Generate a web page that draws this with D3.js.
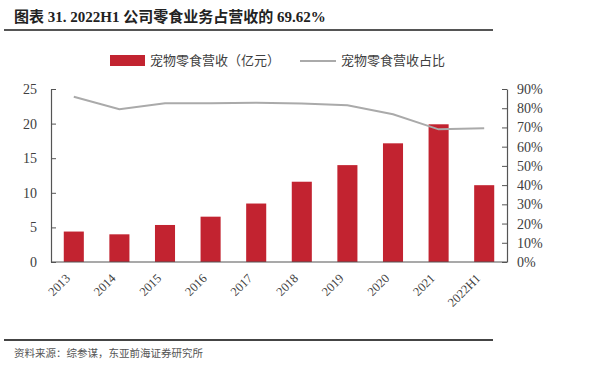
<!DOCTYPE html>
<html><head><meta charset="utf-8">
<script src="https://cdn.jsdelivr.net/npm/d3@7"></script>
<style>
body{margin:0;background:#fff;}
svg{display:block;}
</style></head>
<body><svg id="c" width="600" height="365"></svg>
<script>
const categories = ["2013","2014","2015","2016","2017","2018","2019","2020","2021","2022H1"];
const revenue = [4.4, 4.0, 5.35, 6.55, 8.45, 11.6, 14.0, 17.15, 19.9, 11.1];
const share = [86.0, 79.5, 82.6, 82.6, 82.9, 82.5, 81.6, 76.9, 69.0, 69.62];
const leftTicks = [0,5,10,15,20,25];
const rightTicks = [0,10,20,30,40,50,60,70,80,90];
const titleText = "图表 31. 2022H1 公司零食业务占营收的 69.62%";
const barLabel = "宠物零食营收（亿元）";
const lineLabel = "宠物零食营收占比";
const sourceText = "资料来源：综参谋，东亚前海证券研究所";

const svg = d3.select("#c");
const serif = "'Liberation Serif','Noto Serif CJK SC','Noto Sans CJK SC',serif";
const cjk = "'Liberation Serif','Noto Sans CJK SC',serif";
const m = {left:51, right:507, top:89, bottom:262};

const x = d3.scaleBand().domain(categories).range([m.left, m.right]).paddingInner(0.56).paddingOuter(0.28);
const yL = d3.scaleLinear().domain([0,25]).range([m.bottom, m.top]);
const yR = d3.scaleLinear().domain([0,90]).range([m.bottom, m.top]);

// title
svg.append("text").attr("x",14).attr("y",22).text(titleText)
  .attr("font-family",cjk).attr("font-weight","bold").attr("font-size",15).attr("fill","#222");
svg.append("line").attr("x1",4).attr("x2",493).attr("y1",30).attr("y2",30).attr("stroke","#555").attr("stroke-width",2);

// bars
svg.append("g").selectAll("rect").data(revenue).join("rect")
  .attr("x",(d,i)=>x(categories[i])).attr("width",x.bandwidth())
  .attr("y",d=>yL(d)).attr("height",d=>yL(0)-yL(d)).attr("fill","#C22330");

// line
const line = d3.line().x((d,i)=>x(categories[i])+x.bandwidth()/2).y(d=>yR(d));
svg.append("path").datum(share).attr("d",line).attr("fill","none").attr("stroke","#AAAAAA").attr("stroke-width",2);

// axes
const axL = svg.append("g").attr("transform",`translate(${m.left},0)`)
  .call(d3.axisLeft(yL).tickValues(leftTicks).tickSizeInner(-5).tickSizeOuter(0).tickPadding(14));
const axR = svg.append("g").attr("transform",`translate(${m.right},0)`)
  .call(d3.axisRight(yR).tickValues(rightTicks).tickFormat(d=>d+"%").tickSizeInner(-5).tickSizeOuter(0).tickPadding(10));
const axB = svg.append("g").attr("transform",`translate(0,${m.bottom})`)
  .call(d3.axisBottom(x).tickSize(0).tickPadding(8));
[axL,axR,axB].forEach(a=>{
  a.selectAll("path").attr("stroke","#555").attr("stroke-width",1.2);
  a.selectAll("line").attr("stroke","#555");
  a.selectAll("text").attr("font-family",serif).attr("font-size",14).attr("fill","#404040");
});
axB.select("path").attr("d",`M${m.left},0H${m.right}`);
axB.selectAll(".tick text").attr("font-size",12.5).attr("text-anchor","end")
  .attr("x",0).attr("y",0).attr("dy","0.35em")
  .attr("transform","translate(-6,14) rotate(-45)");

// legend
svg.append("rect").attr("x",110).attr("y",55).attr("width",35).attr("height",11).attr("fill","#C22330");
svg.append("text").attr("x",150).attr("y",65).text(barLabel).attr("font-family",cjk).attr("font-size",13).attr("fill","#404040");
svg.append("line").attr("x1",300).attr("x2",336).attr("y1",61).attr("y2",61).attr("stroke","#AAAAAA").attr("stroke-width",2);
svg.append("text").attr("x",341).attr("y",65).text(lineLabel).attr("font-family",cjk).attr("font-size",13).attr("fill","#404040");

// footer
svg.append("line").attr("x1",4).attr("x2",493).attr("y1",340).attr("y2",340).attr("stroke","#444").attr("stroke-width",2);
svg.append("text").attr("x",14).attr("y",357).text(sourceText).attr("font-family",cjk).attr("font-size",10.5).attr("fill","#555");
</script></body></html>
